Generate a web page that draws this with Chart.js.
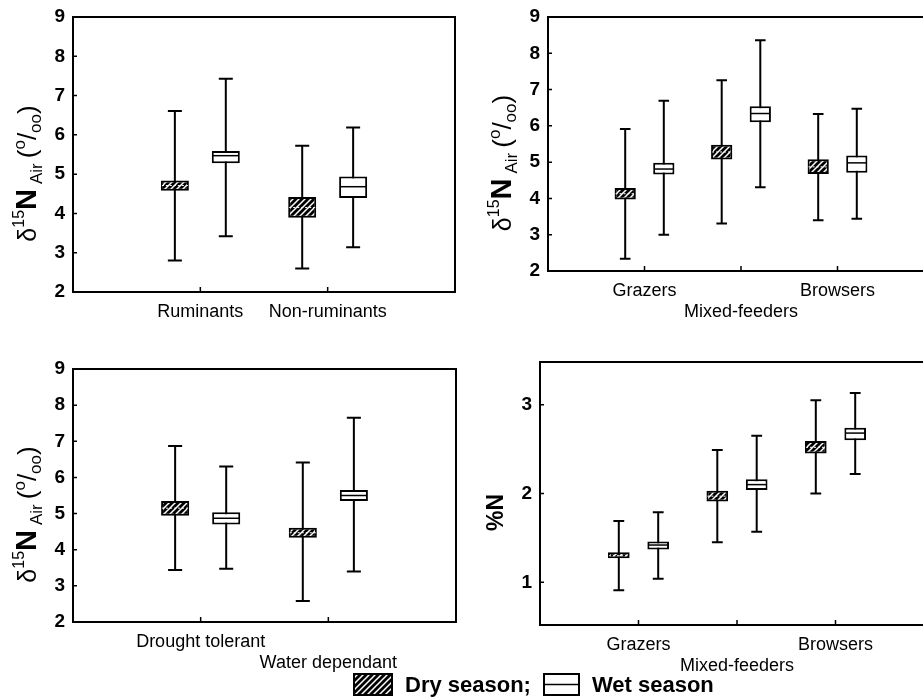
<!DOCTYPE html>
<html>
<head>
<meta charset="utf-8">
<script src="https://cdn.jsdelivr.net/npm/chart.js@4/dist/chart.umd.min.js"></script>
<style>
  html, body { margin: 0; padding: 0; background: #fff; width: 923px; height: 699px; overflow: hidden; position: relative; }
  .panel { position: absolute; }
  .panel canvas { display: block; }
  #legend { position: absolute; left: 353px; top: 673px; height: 23px; display: flex; align-items: center;
            font: bold 22px 'Liberation Sans', Arial, Helvetica, sans-serif; color: #000; white-space: nowrap; }
  #legend canvas { display: block; }
</style>
</head>
<body>
<div class="panel" style="left:0;top:0"><canvas id="pDigestion" width="462" height="330"></canvas></div>
<div class="panel" style="left:462px;top:0"><canvas id="pFeeding" width="480" height="330"></canvas></div>
<div class="panel" style="left:0;top:330px"><canvas id="pWater" width="462" height="345"></canvas></div>
<div class="panel" style="left:462px;top:330px"><canvas id="pNitrogen" width="480" height="345"></canvas></div>
<div id="legend">
  <canvas id="swDry" width="40" height="23"></canvas><span id="lbDry" style="margin-left:12px"></span>
  <canvas id="swWet" width="37" height="23" style="margin-left:12px"></canvas><span id="lbWet" style="margin-left:12px"></span>
</div>
<script>
// Box rows are [min, q1, median, q3, max]

// δ15N by digestive physiology
const digestionCats = ['Ruminants', 'Non-ruminants'];
const digestionDry = [[2.80, 4.58, 4.71, 4.84, 6.61], [2.60, 3.89, 4.15, 4.42, 5.72]];
const digestionWet = [[3.42, 5.28, 5.47, 5.59, 7.43], [3.14, 4.39, 4.68, 4.94, 6.19]];

// δ15N by feeding guild
const feedingCats = ['Grazers', 'Mixed-feeders', 'Browsers'];
const feedingDry = [[2.34, 3.97, 4.13, 4.29, 5.91], [3.31, 5.07, 5.28, 5.48, 7.26], [3.40, 4.67, 4.87, 5.08, 6.33]];
const feedingWet = [[3.00, 4.66, 4.81, 4.98, 6.69], [4.31, 6.10, 6.34, 6.54, 8.36], [3.44, 4.71, 4.98, 5.18, 6.47]];

// δ15N by water dependence
const waterCats = ['Drought tolerant', 'Water dependant'];
const waterDry = [[3.44, 4.94, 5.15, 5.35, 6.87], [2.58, 4.33, 4.47, 4.61, 6.41]];
const waterWet = [[3.47, 4.70, 4.87, 5.04, 6.30], [3.40, 5.35, 5.50, 5.65, 7.65]];

// %N by feeding guild
const nitrogenCats = ['Grazers', 'Mixed-feeders', 'Browsers'];
const nitrogenDry = [[0.91, 1.27, 1.30, 1.34, 1.69], [1.45, 1.91, 1.97, 2.03, 2.49], [2.00, 2.45, 2.52, 2.59, 3.05]];
const nitrogenWet = [[1.04, 1.37, 1.42, 1.46, 1.79], [1.57, 2.04, 2.10, 2.16, 2.65], [2.22, 2.60, 2.68, 2.74, 3.13]];

const isotopeTicks = [2, 3, 4, 5, 6, 7, 8, 9];
const nitrogenTicks = [1, 2, 3];
const seasons = ['Dry season', 'Wet season'];

const FONT = "'Liberation Sans', Arial, Helvetica, sans-serif";
Chart.defaults.font.family = FONT;
Chart.defaults.color = '#000';

// Diagonal hatch used for the dry-season boxes
function makeHatch() {
  const t = document.createElement('canvas');
  t.width = 6; t.height = 6;
  const c = t.getContext('2d');
  c.fillStyle = '#000';
  c.fillRect(0, 0, 6, 6);
  c.strokeStyle = '#fff';
  c.lineWidth = 1.5;
  c.beginPath();
  c.moveTo(-1, 7); c.lineTo(7, -1);
  c.moveTo(-4, 4); c.lineTo(4, -4);
  c.moveTo(2, 10); c.lineTo(10, 2);
  c.stroke();
  return t;
}
const hatchTile = makeHatch();
const hatch = document.createElement('canvas').getContext('2d').createPattern(hatchTile, 'repeat');

// Whiskers under the boxes, medians on top
const boxWhiskers = {
  id: 'boxWhiskers',
  beforeDatasetsDraw(chart) {
    const { ctx } = chart;
    const y = chart.scales.y;
    chart.data.datasets.forEach((ds, di) => {
      chart.getDatasetMeta(di).data.forEach((bar, i) => {
        const s = ds.stats[i];
        if (!s) return;
        const cap = bar.width * 0.25;
        const lo = y.getPixelForValue(s[0]);
        const hi = y.getPixelForValue(s[4]);
        ctx.save();
        ctx.strokeStyle = '#000';
        ctx.lineWidth = 2;
        ctx.beginPath();
        ctx.moveTo(bar.x, lo); ctx.lineTo(bar.x, hi);
        ctx.moveTo(bar.x - cap, lo); ctx.lineTo(bar.x + cap, lo);
        ctx.moveTo(bar.x - cap, hi); ctx.lineTo(bar.x + cap, hi);
        ctx.stroke();
        ctx.restore();
      });
    });
  },
  afterDatasetsDraw(chart) {
    const { ctx } = chart;
    const y = chart.scales.y;
    chart.data.datasets.forEach((ds, di) => {
      chart.getDatasetMeta(di).data.forEach((bar, i) => {
        const s = ds.stats[i];
        if (!s) return;
        const m = y.getPixelForValue(s[2]);
        const half = bar.width / 2 - 1;
        ctx.save();
        if (ds.hatched) {
          ctx.strokeStyle = '#fff';
          ctx.lineWidth = 1;
          ctx.setLineDash([2, 2]);
        } else {
          ctx.strokeStyle = '#000';
          ctx.lineWidth = 1.5;
        }
        ctx.beginPath();
        ctx.moveTo(bar.x - half, m); ctx.lineTo(bar.x + half, m);
        ctx.stroke();
        ctx.restore();
      });
    });
  }
};

// Closed frame round the plot area with short inward tick marks
const frame = {
  id: 'frame',
  afterDraw(chart) {
    const { ctx, chartArea: a } = chart;
    const x = chart.scales.x, y = chart.scales.y;
    ctx.save();
    ctx.strokeStyle = '#000';
    ctx.lineWidth = 2;
    ctx.strokeRect(a.left, a.top, a.right - a.left, a.bottom - a.top);
    ctx.lineWidth = 1.5;
    ctx.beginPath();
    y.ticks.forEach(t => {
      const p = y.getPixelForValue(t.value);
      ctx.moveTo(a.left, p); ctx.lineTo(a.left + 4, p);
    });
    chart.data.labels.forEach((l, i) => {
      if (l === '') return;
      const p = x.getPixelForValue(i);
      ctx.moveTo(p, a.bottom); ctx.lineTo(p, a.bottom - 5);
    });
    ctx.stroke();
    ctx.restore();
  }
};

// Rotated axis title built from runs of differently sized text
function axisTitle(runs, dx, dy) {
  return {
    id: 'axisTitle',
    afterDraw(chart) {
      const { ctx, chartArea: a } = chart;
      const font = r => `${r.bold ? 'bold ' : ''}${r.size}px ${FONT}`;
      const widths = runs.map(r => { ctx.font = font(r); return ctx.measureText(r.text).width + r.gap; });
      const total = widths.reduce((p, w) => p + w, 0);
      ctx.save();
      ctx.translate(a.left + dx, (a.top + a.bottom) / 2 + dy);
      ctx.rotate(-Math.PI / 2);
      ctx.fillStyle = '#000';
      ctx.textBaseline = 'alphabetic';
      ctx.textAlign = 'left';
      let cx = -total / 2;
      runs.forEach((r, i) => {
        ctx.font = font(r);
        ctx.fillText(r.text, cx + r.gap, r.rise);
        cx += widths[i];
      });
      ctx.restore();
    }
  };
}

const isotopeTitle = [
  { text: 'δ',   size: 25, bold: false, rise: 0,   gap: 0 },
  { text: '15',  size: 16, bold: false, rise: -12, gap: 0 },
  { text: 'N',   size: 29, bold: true,  rise: 0,   gap: 0 },
  { text: 'Air', size: 17, bold: false, rise: 6,   gap: 5 },
  { text: '(',   size: 26, bold: false, rise: 0,   gap: 5 },
  { text: 'o',   size: 17, bold: false, rise: -11, gap: 0 },
  { text: '/',   size: 26, bold: false, rise: 0,   gap: 0 },
  { text: 'oo',  size: 17, bold: false, rise: 5,   gap: 0 },
  { text: ')',   size: 26, bold: false, rise: 0,   gap: 0 }
];
const nitrogenTitle = [{ text: '%N', size: 23, bold: true, rise: 0, gap: 0 }];

function makePanel(id, cfg) {
  const labels = ['', ...cfg.cats.map((c, i) => (cfg.rows[i] ? ['', c] : [c])), ''];
  const bounds = rows => [null, ...rows.map(r => [r[1], r[3]]), null];
  const full = rows => [null, ...rows, null];
  const common = { borderColor: '#000', borderWidth: 2, borderSkipped: false,
                   categoryPercentage: 0.8, barPercentage: 0.55 };
  return new Chart(document.getElementById(id), {
    type: 'bar',
    data: {
      labels,
      datasets: [
        Object.assign({ label: seasons[0], data: bounds(cfg.dry), stats: full(cfg.dry), hatched: true,
                        backgroundColor: hatch }, common),
        Object.assign({ label: seasons[1], data: bounds(cfg.wet), stats: full(cfg.wet), hatched: false,
                        backgroundColor: '#fff' }, common)
      ]
    },
    options: {
      responsive: false,
      animation: false,
      devicePixelRatio: 1,
      layout: { padding: { top: cfg.top, right: cfg.right, left: 0, bottom: 0 } },
      plugins: {
        legend: { display: false },
        tooltip: { enabled: false }
      },
      scales: {
        x: {
          offset: false,
          grid: { display: false, drawTicks: false },
          border: { display: false },
          ticks: { font: { size: 18, lineHeight: 1.1667 }, color: '#000', padding: 9.5,
                   maxRotation: 0, autoSkip: false },
          afterFit: s => { s.height = cfg.xHeight; s.paddingLeft = 0; s.paddingRight = 0; }
        },
        y: {
          min: cfg.min, max: cfg.max,
          grid: { display: false, drawTicks: false },
          border: { display: false },
          ticks: { font: { size: 19, weight: 'bold' }, color: '#000', padding: 8 },
          afterBuildTicks: s => { s.ticks = cfg.ticks.map(v => ({ value: v })); },
          afterFit: s => { s.width = cfg.yWidth; s.paddingTop = 0; s.paddingBottom = 0; }
        }
      }
    },
    plugins: [boxWhiskers, frame, axisTitle(cfg.title, -37, 19)]
  });
}

makePanel('pDigestion', { cats: digestionCats, rows: [0, 0], dry: digestionDry, wet: digestionWet,
  min: 2, max: 9, ticks: isotopeTicks, title: isotopeTitle, yWidth: 73, top: 17, right: 7, xHeight: 38 });
makePanel('pFeeding', { cats: feedingCats, rows: [0, 1, 0], dry: feedingDry, wet: feedingWet,
  min: 2, max: 9, ticks: isotopeTicks, title: isotopeTitle, yWidth: 86, top: 17, right: 8, xHeight: 59 });
makePanel('pWater', { cats: waterCats, rows: [0, 1], dry: waterDry, wet: waterWet,
  min: 2, max: 9, ticks: isotopeTicks, title: isotopeTitle, yWidth: 73, top: 39, right: 6, xHeight: 53 });
makePanel('pNitrogen', { cats: nitrogenCats, rows: [0, 1, 0], dry: nitrogenDry, wet: nitrogenWet,
  min: 0.52, max: 3.48, ticks: nitrogenTicks, title: nitrogenTitle, yWidth: 78, top: 32, right: 8, xHeight: 50 });

// Legend swatches and labels
(function () {
  const d = document.getElementById('swDry').getContext('2d');
  d.fillStyle = d.createPattern(hatchTile, 'repeat');
  d.fillRect(1, 1, 38, 21);
  d.strokeStyle = '#000'; d.lineWidth = 2;
  d.strokeRect(1, 1, 38, 21);
  const w = document.getElementById('swWet').getContext('2d');
  w.fillStyle = '#fff'; w.fillRect(1, 1, 35, 21);
  w.strokeStyle = '#000'; w.lineWidth = 2;
  w.strokeRect(1, 1, 35, 21);
  w.lineWidth = 1.5;
  w.beginPath(); w.moveTo(1, 11.5); w.lineTo(36, 11.5); w.stroke();
  document.getElementById('lbDry').textContent = seasons[0] + ';';
  document.getElementById('lbWet').textContent = seasons[1];
})();
</script>
</body>
</html>
